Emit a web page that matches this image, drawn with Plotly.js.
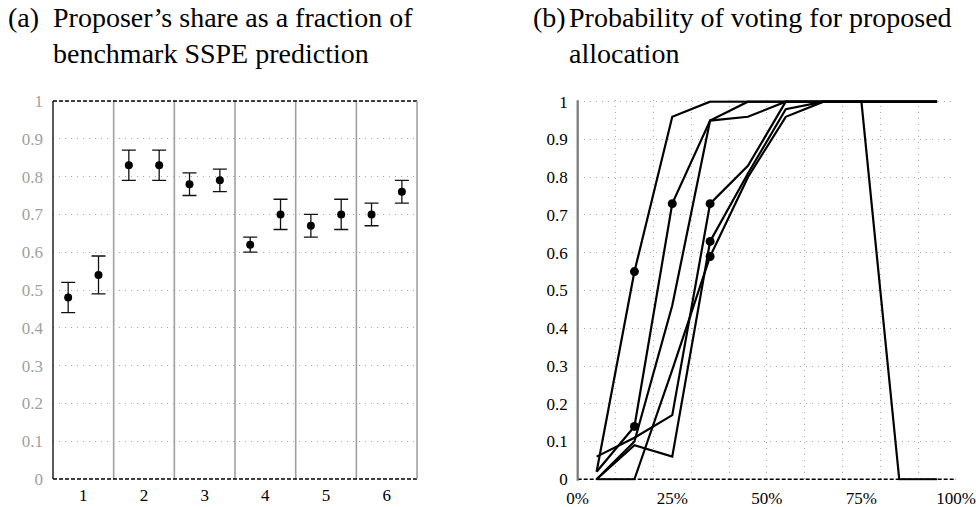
<!DOCTYPE html>
<html><head><meta charset="utf-8">
<script src="https://cdn.plot.ly/plotly-3.0.1.min.js"></script>
<style>html,body{margin:0;padding:0;background:#fff}</style>
</head><body><div id="chart" style="width:976px;height:507px"></div>
<script>
// ---- Panel (a): proposer's share / SSPE benchmark, by session ----
const sessions = [1, 2, 3, 4, 5, 6];
const shareFirst  = [0.48, 0.83, 0.78, 0.62, 0.67, 0.70];
const lowFirst    = [0.44, 0.79, 0.75, 0.60, 0.64, 0.67];
const highFirst   = [0.52, 0.87, 0.81, 0.64, 0.70, 0.73];
const shareSecond = [0.54, 0.83, 0.79, 0.70, 0.70, 0.76];
const lowSecond   = [0.49, 0.79, 0.76, 0.66, 0.66, 0.73];
const highSecond  = [0.59, 0.87, 0.82, 0.74, 0.74, 0.79];

// ---- Panel (b): probability of voting for proposed allocation ----
const proposerShare = [0.05, 0.15, 0.25, 0.35, 0.45, 0.55, 0.65, 0.75, 0.85, 0.95];
const vote1 = [0.02, 0.55, 0.96, 1.00, 1.00, 1.00, 1.00, 1.00, 0.00, 0.00];
const vote2 = [0.02, 0.14, 0.73, 0.95, 1.00, 1.00, 1.00, 1.00, 1.00, 1.00];
const vote3 = [0.00, 0.10, 0.46, 0.95, 0.96, 1.00, 1.00, 1.00, 1.00, 1.00];
const vote4 = [0.00, 0.09, 0.06, 0.63, 0.81, 0.98, 1.00, 1.00, 1.00, 1.00];
const vote5 = [0.06, 0.11, 0.17, 0.73, 0.83, 1.00, 1.00, 1.00, 1.00, 1.00];
const vote6 = [0.00, 0.00, 0.29, 0.59, 0.80, 0.96, 1.00, 1.00, 1.00, 1.00];
// [curve, point] pairs that carry a dot
const markedPoints = [[0, 1], [1, 1], [1, 2], [4, 3], [3, 3], [5, 3]];

const yTicks = [0, 0.1, 0.2, 0.3, 0.4, 0.5, 0.6, 0.7, 0.8, 0.9, 1];
const yTickText = ['0', '0.1', '0.2', '0.3', '0.4', '0.5', '0.6', '0.7', '0.8', '0.9', '1'];
const xGridB = [0, 0.1, 0.2, 0.3, 0.4, 0.5, 0.6, 0.7, 0.8, 0.9, 1];
const xTicksB = [0, 0.25, 0.5, 0.75, 1];
const xTickTextB = ['0%', '25%', '50%', '75%', '100%'];

const FONT = '"Liberation Serif", "DejaVu Serif", serif';
const DOT = '1px,5px';
const GRIDC = '#a8a8a8';

const off = 0.25;
const traces = [];
function errTrace(xs, ys, lo, hi) {
  return {
    type: 'scatter', mode: 'markers', xaxis: 'x', yaxis: 'y',
    x: xs, y: ys,
    marker: {color: '#000', size: 8},
    error_y: {type: 'data', symmetric: false,
      array: hi.map((h, i) => h - ys[i]),
      arrayminus: lo.map((l, i) => ys[i] - l),
      color: '#111', thickness: 1.3, width: 7},
    hoverinfo: 'skip', showlegend: false
  };
}
traces.push(errTrace(sessions.map(s => s - off), shareFirst, lowFirst, highFirst));
traces.push(errTrace(sessions.map(s => s + off), shareSecond, lowSecond, highSecond));

const curves = [vote1, vote2, vote3, vote4, vote5, vote6];
curves.forEach(c => traces.push({
  type: 'scatter', mode: 'lines', xaxis: 'x2', yaxis: 'y2',
  x: proposerShare, y: c,
  line: {color: '#000', width: 2.2},
  hoverinfo: 'skip', showlegend: false
}));
// dots drawn on the overlay axis x3 (same domain and range as x2) so it gets drawn
traces.push({
  type: 'scatter', mode: 'markers', xaxis: 'x3', yaxis: 'y2',
  x: markedPoints.map(p => proposerShare[p[1]]),
  y: markedPoints.map(p => curves[p[0]][p[1]]),
  marker: {color: '#000', size: 9},
  hoverinfo: 'skip', showlegend: false
});

const shapes = [];
// panel (a) session separators
sessions.slice(0, -1).forEach(s => shapes.push({
  type: 'line', xref: 'x', yref: 'y domain', x0: s + 0.5, x1: s + 0.5, y0: 0, y1: 1,
  line: {color: '#a0a0a0', width: 1.6}, layer: 'below'
}));
// panel (a) frame
shapes.push({type: 'line', xref: 'x domain', yref: 'y domain', x0: 0, x1: 1, y0: 0, y1: 0, line: {color: '#000', width: 1.3, dash: '4px,2px'}});
shapes.push({type: 'line', xref: 'x domain', yref: 'y domain', x0: 0, x1: 1, y0: 1, y1: 1, line: {color: '#000', width: 1.3, dash: '4px,2px'}});
shapes.push({type: 'line', xref: 'x domain', yref: 'y domain', x0: 0, x1: 0, y0: 0, y1: 1, line: {color: '#000', width: 1.3}});
shapes.push({type: 'line', xref: 'x domain', yref: 'y domain', x0: 1, x1: 1, y0: 0, y1: 1, line: {color: '#a0a0a0', width: 1.6}});
// panel (b) axes
shapes.push({type: 'line', xref: 'x2 domain', yref: 'y2 domain', x0: 0, x1: 1, y0: 0.004, y1: 0.004, line: {color: '#000', width: 1.3, dash: '4px,2px'}});
shapes.push({type: 'line', xref: 'x2 domain', yref: 'y2 domain', x0: 0, x1: 0, y0: 0, y1: 1, line: {color: '#777', width: 2.2}});

const tickFont = {family: FONT, size: 17, color: '#000'};
const titleFont = {family: FONT, size: 28, color: '#000'};
const layout = {
  width: 976, height: 507,
  margin: {l: 0, r: 0, t: 0, b: 0},
  paper_bgcolor: '#fff', plot_bgcolor: '#fff',
  showlegend: false,
  xaxis: {domain: [0.0543, 0.4273], anchor: 'y', range: [0.5, 6.5],
    tickvals: sessions, ticktext: sessions.map(String), ticks: '', ticklabelstandoff: 4,
    showgrid: false, zeroline: false, showline: false, tickfont: tickFont},
  yaxis: {domain: [0.0552, 0.8008], anchor: 'x', range: [0, 1],
    tickvals: yTicks, ticktext: yTickText, ticks: '', ticklabelstandoff: 9,
    showgrid: true, gridcolor: GRIDC, griddash: DOT, gridwidth: 1,
    zeroline: false, showline: false, tickfont: {family: FONT, size: 17, color: '#a0a0a0'}},
  xaxis2: {domain: [0.5919, 0.9795], anchor: 'y2', range: [0, 1],
    tickvals: xGridB, showticklabels: false, ticks: '',
    showgrid: true, gridcolor: GRIDC, griddash: DOT, gridwidth: 1,
    zeroline: false, showline: false},
  xaxis3: {overlaying: 'x2', anchor: 'y2', range: [0, 1],
    tickvals: xTicksB, ticktext: xTickTextB, ticks: '', ticklabelstandoff: 5,
    ticklabeloverflow: 'allow',
    showgrid: false, zeroline: false, showline: false, tickfont: tickFont},
  yaxis2: {domain: [0.0517, 0.8024], anchor: 'x2', range: [-0.004, 1.004],
    tickvals: yTicks, ticktext: yTickText, ticks: '', ticklabelstandoff: 9,
    showgrid: true, gridcolor: GRIDC, griddash: DOT, gridwidth: 1,
    zeroline: false, showline: false, tickfont: tickFont},
  shapes: shapes,
  annotations: [
    {xref: 'paper', yref: 'paper', x: 6 / 976, y: 1, xanchor: 'left', yanchor: 'top',
      text: '(a)', showarrow: false, font: titleFont},
    {xref: 'paper', yref: 'paper', x: 51 / 976, y: 1, xanchor: 'left', yanchor: 'top', align: 'left',
      text: 'Proposer’s share as a fraction of<br>benchmark SSPE prediction', showarrow: false,
      font: titleFont},
    {xref: 'paper', yref: 'paper', x: 531 / 976, y: 1, xanchor: 'left', yanchor: 'top',
      text: '(b)', showarrow: false, font: titleFont},
    {xref: 'paper', yref: 'paper', x: 567 / 976, y: 1, xanchor: 'left', yanchor: 'top', align: 'left',
      text: 'Probability of voting for proposed<br>allocation', showarrow: false,
      font: titleFont}
  ]
};
Plotly.newPlot('chart', traces, layout, {staticPlot: true});
</script></body></html>
